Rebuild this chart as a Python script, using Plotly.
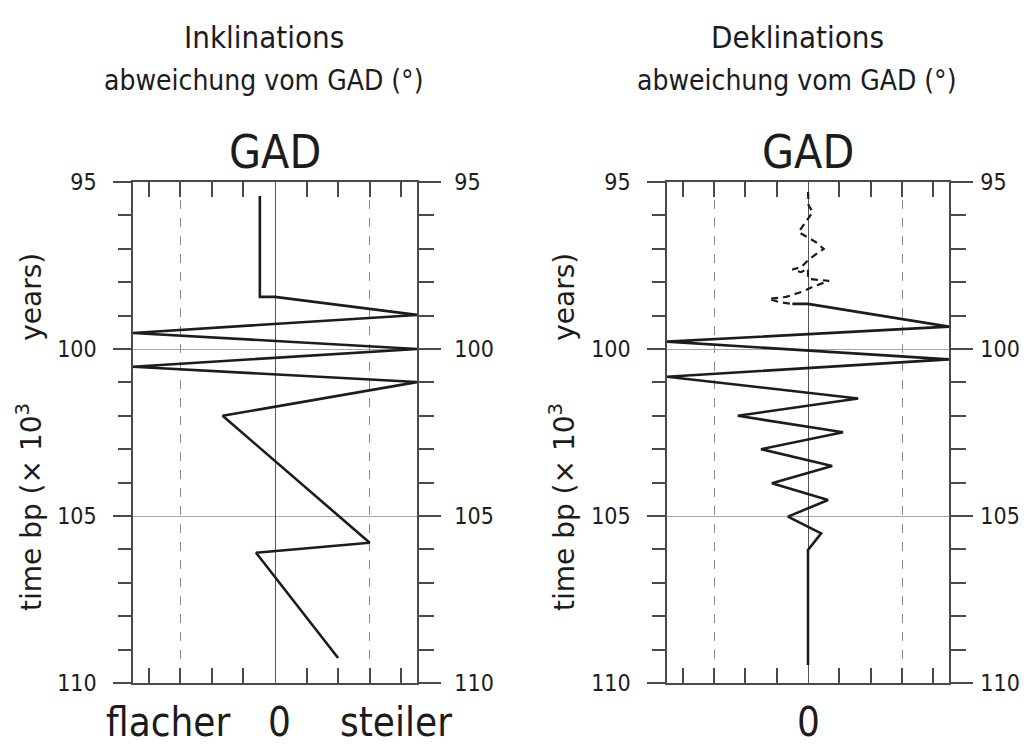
import plotly.graph_objects as go

# Inklination: Abweichung vom GAD (x-Einheiten, 0 = GAD), Zeit in ka bp
incl_x = [-0.48, -0.48, 0.0, 4.5, -4.5, 4.5, -4.5, 4.5, -1.66, 3.0, -0.6, 2.0]
incl_y = [95.42, 98.44, 98.44, 98.98, 99.52, 100.0, 100.53, 100.99, 102.0, 105.8, 106.1, 109.25]

# Deklination, durchgezogener Teil
decl_x = [-0.5, 0.0, 4.5, -4.5, 4.5, -4.5, 1.6, -2.24, 1.12, -1.5, 0.77, -1.15, 0.64, -0.64, 0.42, 0.0, 0.0]
decl_y = [98.65, 98.65, 99.33, 99.78, 100.31, 100.83, 101.48, 102.0, 102.49, 103.0, 103.5, 104.02,
          104.52, 105.02, 105.52, 106.02, 109.46]

# Deklination, gestrichelter Teil (oben)
decl_dash_x = [0.0, 0.02, 0.15, 0.0, -0.3, 0.25, 0.5, 0.05, -0.22, -0.5, -0.22, 0.0, 0.0, 0.67,
               0.15, -0.2, -0.7, -1.25, -0.9, -0.5]
decl_dash_y = [95.3, 95.7, 95.9, 96.1, 96.5, 96.8, 97.0, 97.3, 97.55, 97.62, 97.7, 97.6, 97.9,
               97.96, 98.14, 98.29, 98.44, 98.5, 98.6, 98.65]

titles_top = ["Inklinations", "Deklinations"]
subtitle = "abweichung vom GAD (°)"
y_title = "time bp (× 10<sup>3</sup>" + "&nbsp;" * 7 + "years)"

# die Seite hat 8px body-margin -> Figur so klein, dass nichts scrollt; Koordinaten verschoben
OFF = 8
W, H = 1030 - 2 * OFF, 755 - 2 * OFF
FONT = "DejaVu Sans Condensed, DejaVu Sans, sans-serif"
INK = "#1c1c1c"
AX = "#4a4a4a"


def px(x):
    return (x - OFF) / W


def py(y):
    return 1 - (y - OFF) / H


ydom = [py(683), py(182)]

fig = go.Figure()
line = dict(color=INK, width=2.6)
fig.add_trace(go.Scatter(x=incl_x, y=incl_y, mode="lines", line=line, xaxis="x", yaxis="y"))
fig.add_trace(go.Scatter(x=decl_dash_x, y=decl_dash_y, mode="lines",
                         line=dict(color=INK, width=2.2, dash="7px,5px"), xaxis="x2", yaxis="y2"))
fig.add_trace(go.Scatter(x=decl_x, y=decl_y, mode="lines", line=line, xaxis="x2", yaxis="y2"))
# unsichtbare Traces fuer die rechten y-Achsen
fig.add_trace(go.Scatter(x=[0], y=[100], mode="markers", marker=dict(opacity=0),
                         xaxis="x", yaxis="y3", hoverinfo="skip"))
fig.add_trace(go.Scatter(x=[0], y=[100], mode="markers", marker=dict(opacity=0),
                         xaxis="x2", yaxis="y4", hoverinfo="skip"))


def xax(dom, anchor):
    return dict(
        domain=dom, anchor=anchor, range=[-4.5, 4.5], showticklabels=False, automargin=False,
        showline=True, linecolor=AX, linewidth=1.5, mirror="ticks",
        tickmode="array", tickvals=[-3, 3], ticks="inside", ticklen=15,
        tickcolor=AX, tickwidth=1.5,
        showgrid=True, gridcolor="#8a8a8a", griddash="dash", gridwidth=1,
        zeroline=True, zerolinecolor="#555", zerolinewidth=1.3,
        minor=dict(tickvals=[-4, -2, -1, 1, 2, 4], ticks="inside", ticklen=15,
                   tickcolor=AX, tickwidth=1.5, showgrid=False),
        fixedrange=True,
    )


def yax(anchor, side, major_len, minor_len, standoff, overlay=None, grid=False):
    d = dict(
        domain=ydom, anchor=anchor, side=side, range=[110, 95], automargin=False,
        showline=True, linecolor=AX, linewidth=1.5,
        tickmode="linear", tick0=95, dtick=5, ticks="outside", ticklen=major_len,
        tickcolor=AX, tickwidth=1.5, ticklabelstandoff=standoff,
        tickfont=dict(family=FONT, size=23, color=INK),
        showgrid=grid, gridcolor="#a8a8a8", gridwidth=1, zeroline=False,
        minor=dict(dtick=1, tick0=95, ticks="outside", ticklen=minor_len,
                   tickcolor=AX, tickwidth=1.5, showgrid=False),
        fixedrange=True,
    )
    if overlay:
        d["overlaying"] = overlay
    return d


fig.update_layout(
    template="none",
    width=W, height=H,
    margin=dict(l=0, r=0, t=0, b=0, autoexpand=False),
    paper_bgcolor="white", plot_bgcolor="white",
    showlegend=False,
    xaxis=xax([px(133), px(417)], "y"),
    xaxis2=xax([px(667), px(949)], "y2"),
    yaxis=yax("x", "left", 18, 13, 12, grid=True),
    yaxis2=yax("x2", "left", 18, 13, 12, grid=True),
    yaxis3=yax("x", "right", 22, 15, 9, overlay="y"),
    yaxis4=yax("x2", "right", 22, 15, 3, overlay="y2"),
)

ann = []
for cx, t in zip([264, 797], titles_top):
    ann.append(dict(x=px(cx), y=py(37), text=t, font=dict(size=31)))
    ann.append(dict(x=px(cx), y=py(81), text=subtitle, font=dict(size=28)))
for cx in [275, 808]:
    ann.append(dict(x=px(cx), y=py(152), text="GAD", font=dict(size=46)))
for cx in [30, 563]:
    ann.append(dict(x=px(cx), y=py(432), text=y_title, textangle=-90,
                    font=dict(size=28, family="DejaVu Sans, sans-serif")))
for cx, t in [(168, "flacher"), (279, "0"), (396, "steiler"), (808, "0")]:
    ann.append(dict(x=px(cx), y=py(722), text=t, font=dict(size=40)))
for a in ann:
    a.update(xref="paper", yref="paper", showarrow=False, xanchor="center", yanchor="middle")
    a["font"] = dict(family=a["font"].get("family", FONT), size=a["font"]["size"], color=INK)
fig.update_layout(annotations=ann)

fig.write_html("out.html")
